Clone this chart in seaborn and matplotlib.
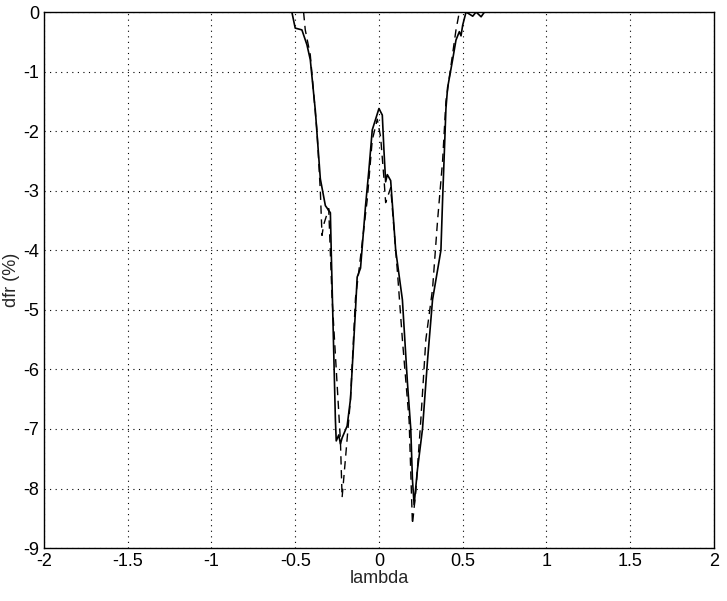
import matplotlib
matplotlib.use('Agg')
import matplotlib.pyplot as plt
import seaborn as sns
import pandas as pd

sns.set_style("white")
plt.rcParams['font.family'] = ['Liberation Sans', 'DejaVu Sans']

# solid curve
lam_a = [-0.52, -0.50, -0.46, -0.43, -0.41, -0.38, -0.35, -0.32, -0.29, -0.285, -0.26, -0.255, -0.24, -0.23,
         -0.22, -0.19, -0.17, -0.14, -0.13, -0.11, -0.08, -0.06, -0.04, 0.0, 0.02, 0.03, 0.04, 0.05, 0.07,
         0.10, 0.14, 0.17, 0.19, 0.20, 0.21, 0.23, 0.26, 0.29, 0.32, 0.37, 0.38, 0.40, 0.41, 0.44, 0.46,
         0.48, 0.49, 0.50, 0.52, 0.56, 0.58, 0.61, 0.63]
dfr_a = [0.0, -0.27, -0.30, -0.55, -0.80, -1.65, -2.80, -3.25, -3.37, -4.0, -6.85, -7.2, -7.1, -7.25,
         -7.15, -6.95, -6.5, -5.0, -4.45, -4.3, -3.25, -2.65, -1.98, -1.62, -1.73, -2.33, -2.85, -2.73, -2.83,
         -4.0, -4.83, -6.22, -7.0, -7.85, -8.27, -7.68, -7.0, -5.85, -4.83, -4.0, -3.15, -1.62, -1.27, -0.8, -0.47,
         -0.33, -0.4, -0.22, 0.0, -0.07, 0.0, -0.08, 0.0]

# dashed curve
lam_b = [-0.45, -0.44, -0.41, -0.37, -0.35, -0.34, -0.33, -0.30, -0.28, -0.23, -0.22, -0.20, -0.17,
         -0.14, -0.12, -0.07, -0.04, -0.01, 0.01, 0.03, 0.04, 0.07, 0.11, 0.14, 0.18, 0.20, 0.22, 0.25,
         0.28, 0.32, 0.35, 0.38, 0.40, 0.43, 0.46, 0.48]
dfr_b = [0.0, -0.3, -0.72, -2.0, -3.0, -3.75, -3.57, -3.3, -4.8, -7.2, -8.15, -7.5, -6.5,
         -4.8, -4.35, -3.15, -2.15, -1.8, -2.1, -2.8, -3.2, -2.95, -4.35, -5.5, -6.85, -8.6, -8.05, -6.85,
         -5.5, -4.65, -3.5, -2.5, -1.5, -0.9, -0.3, 0.0]

df_a = pd.DataFrame({'lambda': lam_a, 'dfr': dfr_a})
df_b = pd.DataFrame({'lambda': lam_b, 'dfr': dfr_b})

fig = plt.figure(figsize=(7.27, 6.01), dpi=100)
ax = fig.add_axes([0.0605, 0.088, 0.9215, 0.892])
sns.lineplot(data=df_a, x='lambda', y='dfr', ax=ax, color='black', lw=1.2, sort=False, estimator=None)
sns.lineplot(data=df_b, x='lambda', y='dfr', ax=ax, color='black', lw=1.0, sort=False, estimator=None,
             linestyle=(0, (6, 4)))

ax.set_xlim(-2, 2)
ax.set_ylim(-9, 0)
ax.set_xticks([-2, -1.5, -1, -0.5, 0, 0.5, 1, 1.5, 2])
ax.set_xticklabels(['-2', '-1.5', '-1', '-0.5', '0', '0.5', '1', '1.5', '2'])
ax.set_yticks(range(-9, 1))
ax.set_yticklabels([str(v) for v in range(-9, 1)])
ax.grid(True, color='black', linestyle=(0, (1, 4)), lw=0.8)
ax.tick_params(labelsize=13, direction='in', length=4, colors='black')
ax.set_xlabel('lambda', fontsize=13, labelpad=0)
ax.set_ylabel('dfr (%)', fontsize=13, labelpad=2)
for s in ax.spines.values():
    s.set_color('black')
    s.set_linewidth(1)

plt.savefig('out.png', dpi=100)
